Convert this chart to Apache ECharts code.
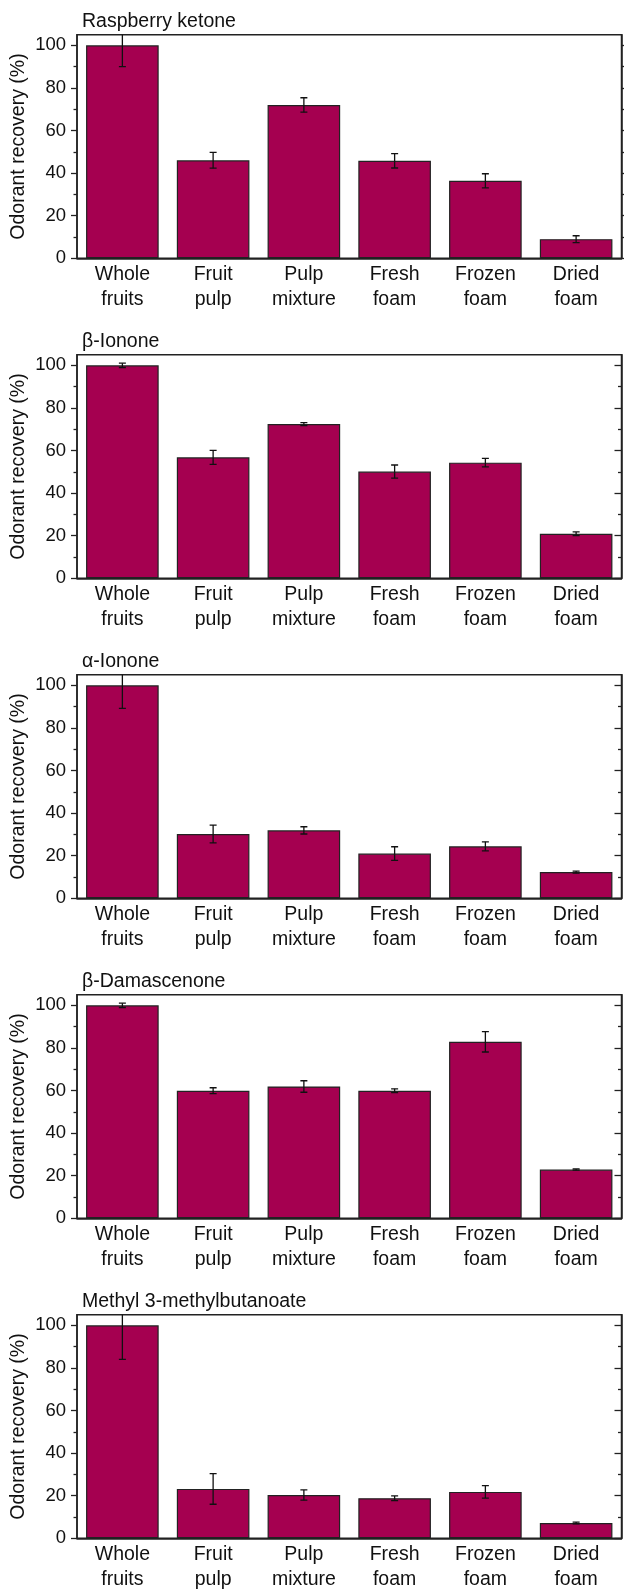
<!DOCTYPE html>
<html>
<head>
<meta charset="utf-8">
<script src="https://cdn.jsdelivr.net/npm/echarts@6/dist/echarts.min.js"></script>
<style>
  html, body { margin: 0; padding: 0; background: #fff; }
  #chart { width: 624px; height: 1590px; }
</style>
</head>
<body>
<div id="chart"></div>
<script>
// Sample stages along the x axis
const categories = ['Whole\nfruits', 'Fruit\npulp', 'Pulp\nmixture', 'Fresh\nfoam', 'Frozen\nfoam', 'Dried\nfoam'];

// Panel titles (one odorant per panel)
const compounds = ['Raspberry ketone', 'β-Ionone', 'α-Ionone', 'β-Damascenone', 'Methyl 3-methylbutanoate'];

// Mean recovery (%) and standard deviation for each odorant
const raspberryKetone    = [100, 46.0, 72.0, 45.8, 36.4, 9.0];
const raspberryKetoneSd  = [10.0, 3.7, 3.4, 3.4, 3.3, 1.6];
const betaIonone         = [100, 56.8, 72.4, 50.1, 54.3, 20.9];
const betaIononeSd       = [1.0, 3.3, 0.7, 3.1, 2.0, 0.9];
const alphaIonone        = [100, 30.2, 31.9, 21.0, 24.4, 12.3];
const alphaIononeSd      = [10.8, 4.2, 1.7, 3.2, 2.1, 0.5];
const betaDamascenone    = [100, 59.9, 61.9, 59.9, 82.9, 22.9];
const betaDamascenoneSd  = [1.0, 1.4, 2.7, 0.9, 4.8, 0.3];
const methylButanoate    = [100, 23.2, 20.3, 18.8, 21.8, 7.2];
const methylButanoateSd  = [16.0, 7.2, 2.4, 1.1, 2.9, 0.4];

// Y axis ticks
const majorTicks = [0, 20, 40, 60, 80, 100];
const minorTicks = [10, 30, 50, 70, 90];
const yMax = 105;

const means = [raspberryKetone, betaIonone, alphaIonone, betaDamascenone, methylButanoate];
const sds   = [raspberryKetoneSd, betaIononeSd, alphaIononeSd, betaDamascenoneSd, methylButanoateSd];

const FONT = '"Liberation Sans", Arial, sans-serif';
const INK = '#111';
const BAR = '#A50050';
const PANEL_STEP = 320;
const GRID_TOP = 34.7;
const GRID_H = 223.6;

const grids = [], xAxes = [], yAxes = [], series = [], titles = [];

compounds.forEach((name, i) => {
  const top = GRID_TOP + PANEL_STEP * i;
  grids.push({
    left: 77, right: 2.5, top: top, height: GRID_H,
    containLabel: false, outerBoundsMode: 'none',
    show: true, borderColor: '#222', borderWidth: 1.5, backgroundColor: 'transparent'
  });
  titles.push({
    text: name, left: 82, top: top - 23, padding: 0,
    textStyle: { fontFamily: FONT, fontSize: 19.5, fontWeight: 'normal', color: INK }
  });
  xAxes.push({
    type: 'category', gridIndex: i, data: categories,
    axisLine: { lineStyle: { color: '#222', width: 1.5 } },
    axisTick: { show: false },
    axisLabel: { fontFamily: FONT, fontSize: 19.5, color: INK, lineHeight: 25, margin: 4, interval: 0 }
  });
  const base = { type: 'value', gridIndex: i, min: 0, max: yMax, splitLine: { show: false } };
  const yMain = yAxes.length;
  // left: labels + major ticks
  yAxes.push(Object.assign({}, base, {
    position: 'left',
    name: 'Odorant recovery (%)', nameLocation: 'middle', nameGap: 48, nameMoveOverlap: false,
    nameTextStyle: { fontFamily: FONT, fontSize: 19.5, color: INK },
    axisLine: { show: true, lineStyle: { color: '#222', width: 1.5 } },
    axisTick: { show: true, inside: false, length: 6, customValues: majorTicks, lineStyle: { color: '#222', width: 1.3 } },
    axisLabel: { fontFamily: FONT, fontSize: 18.5, color: INK, margin: 11, customValues: majorTicks }
  }));
  // left: minor ticks
  yAxes.push(Object.assign({}, base, {
    position: 'left',
    axisLine: { show: false },
    axisTick: { show: true, inside: false, length: 3.5, customValues: minorTicks, lineStyle: { color: '#222', width: 1.3 } },
    axisLabel: { show: false }
  }));
  // right: mirrored ticks, outward on the first panel, inward on the rest
  const inward = i > 0;
  yAxes.push(Object.assign({}, base, {
    position: 'right',
    axisLine: { show: true, lineStyle: { color: '#222', width: 1.5 } },
    axisTick: { show: true, inside: inward, length: 7, customValues: majorTicks, lineStyle: { color: '#222', width: 1.3 } },
    axisLabel: { show: false }
  }));
  yAxes.push(Object.assign({}, base, {
    position: 'right',
    axisLine: { show: false },
    axisTick: { show: true, inside: inward, length: 3.5, customValues: minorTicks, lineStyle: { color: '#222', width: 1.3 } },
    axisLabel: { show: false }
  }));

  series.push({
    type: 'bar', xAxisIndex: i, yAxisIndex: yMain,
    data: means[i], barCategoryGap: '20%',
    itemStyle: { color: BAR, borderColor: '#222', borderWidth: 1.2 },
    silent: true, animation: false
  });
  series.push({
    type: 'custom', xAxisIndex: i, yAxisIndex: yMain, clip: true, silent: true, animation: false,
    data: means[i].map((v, k) => [k, v, sds[i][k]]),
    renderItem: (params, api) => {
      const x = api.value(0), v = api.value(1), e = api.value(2);
      const hi = api.coord([x, v + e]);
      const lo = api.coord([x, v - e]);
      const cap = 3.5;
      const style = { stroke: '#111', lineWidth: 1.3, fill: null };
      return {
        type: 'group',
        children: [
          { type: 'line', shape: { x1: hi[0], y1: hi[1], x2: lo[0], y2: lo[1] }, style: style },
          { type: 'line', shape: { x1: hi[0] - cap, y1: hi[1], x2: hi[0] + cap, y2: hi[1] }, style: style },
          { type: 'line', shape: { x1: lo[0] - cap, y1: lo[1], x2: lo[0] + cap, y2: lo[1] }, style: style }
        ]
      };
    },
    z: 5
  });
});

const chart = echarts.init(document.getElementById('chart'), null, { renderer: 'canvas' });
chart.setOption({
  animation: false,
  backgroundColor: '#fff',
  title: titles,
  grid: grids,
  xAxis: xAxes,
  yAxis: yAxes,
  series: series
});
</script>
</body>
</html>
